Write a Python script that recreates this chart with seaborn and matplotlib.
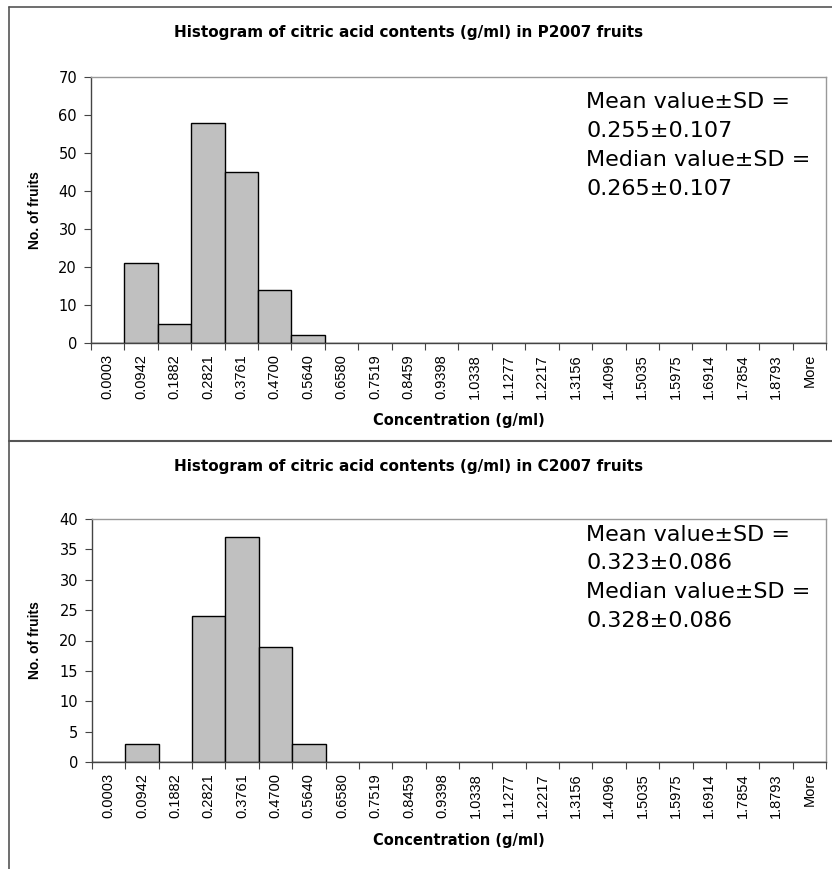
import matplotlib
matplotlib.use("Agg")
import matplotlib.pyplot as plt
from matplotlib.lines import Line2D
import seaborn as sns
import pandas as pd

bins = ["0.0003", "0.0942", "0.1882", "0.2821", "0.3761", "0.4700", "0.5640",
        "0.6580", "0.7519", "0.8459", "0.9398", "1.0338", "1.1277", "1.2217",
        "1.3156", "1.4096", "1.5035", "1.5975", "1.6914", "1.7854", "1.8793", "More"]
counts_p2007 = [0, 21, 5, 58, 45, 14, 2, 0, 0, 0, 0, 0, 0, 0, 0, 0, 0, 0, 0, 0, 0, 0]
counts_c2007 = [0, 3, 0, 24, 37, 19, 3, 0, 0, 0, 0, 0, 0, 0, 0, 0, 0, 0, 0, 0, 0, 0]
titles = ["Histogram of citric acid contents (g/ml) in P2007 fruits",
          "Histogram of citric acid contents (g/ml) in C2007 fruits"]
stats_text = [["Mean value\u00b1SD =", "0.255\u00b10.107", "Median value\u00b1SD =", "0.265\u00b10.107"],
              ["Mean value\u00b1SD =", "0.323\u00b10.086", "Median value\u00b1SD =", "0.328\u00b10.086"]]
y_max = [70, 40]
y_step = [10, 5]

sns.set_theme(style="white")
plt.rcParams['font.family'] = ['Liberation Sans', 'DejaVu Sans']
plt.rcParams['text.color'] = 'black'
plt.rcParams['axes.labelcolor'] = 'black'
plt.rcParams['xtick.color'] = 'black'
plt.rcParams['ytick.color'] = 'black'
WIDE = ['DejaVu Sans', 'Liberation Sans']

W, H = 832, 869
fig = plt.figure(figsize=(W / 100, H / 100), dpi=100)

def fx(px):
    return px / W

def fy(py):
    return 1 - py / H

# panel geometry in pixels: (left, right, top, bottom)
panels = [(91, 826, 77, 343), (92, 826, 519, 762)]
title_y = [32, 467]
xlabel_y = [420, 840]
ylabel_x = 35
text_y = [[102, 131, 160, 189], [535, 563, 592, 621]]
series = [counts_p2007, counts_c2007]

for i in range(2):
    l, r, t, b = panels[i]
    ax = fig.add_axes([fx(l), fy(b), fx(r) - fx(l), fy(t) - fy(b)])
    df = pd.DataFrame({"bin": bins, "count": series[i]})
    sns.barplot(data=df, x="bin", y="count", ax=ax, color="#c0c0c0",
                saturation=1, width=1.0, edgecolor="black", linewidth=1.0)
    ax.set_xlim(-0.5, len(bins) - 0.5)
    ax.set_ylim(0, y_max[i])
    ax.set_yticks(range(0, y_max[i] + 1, y_step[i]))
    ax.tick_params(axis="y", direction="out", length=5, width=0.8, colors="#444444",
                   labelcolor="black", labelsize=10.5, pad=5, left=True)
    for lab in ax.get_yticklabels():
        lab.set_fontfamily(WIDE)
    ax.set_xticks(range(len(bins)))
    ax.set_xticklabels(bins, rotation=90, fontsize=10.5, color="black")
    ax.tick_params(axis="x", which="major", length=0, pad=8, labelcolor="black")
    ax.set_xticks([k - 0.5 for k in range(len(bins) + 1)], minor=True)
    ax.tick_params(axis="x", which="minor", direction="out", length=5, width=0.8,
                   colors="#444444", bottom=True)
    for side in ["left", "bottom"]:
        ax.spines[side].set_color("#444444")
        ax.spines[side].set_linewidth(1.0)
    for side in ["top", "right"]:
        ax.spines[side].set_color("#999999")
        ax.spines[side].set_linewidth(1.0)
    ax.set_xlabel("")
    ax.set_ylabel("")
    ax.grid(False)
    fig.text(fx(409), fy(title_y[i]), titles[i], ha="center", va="center",
             fontsize=11, fontweight="bold", family=WIDE, color="black")
    fig.text((fx(l) + fx(r)) / 2, fy(xlabel_y[i]), "Concentration (g/ml)", ha="center",
             va="center", fontsize=10.5, fontweight="bold", family=WIDE, color="black")
    fig.text(fx(ylabel_x), (fy(t) + fy(b)) / 2, "No. of fruits", ha="center", va="center",
             rotation=90, fontsize=10, fontweight="bold", color="black")
    for line, yy in zip(stats_text[i], text_y[i]):
        fig.text(fx(586), fy(yy), line, ha="left", va="center", fontsize=16,
                 family=WIDE, color="black")

frame_color = "#555555"
fig.add_artist(Line2D([fx(9), 1.0], [fy(7), fy(7)], color=frame_color, lw=1.2))
fig.add_artist(Line2D([fx(9), fx(9)], [fy(7), fy(869)], color=frame_color, lw=1.2))
fig.add_artist(Line2D([fx(9), 1.0], [fy(441), fy(441)], color=frame_color, lw=1.5))

fig.savefig("out.png", dpi=100, facecolor="white")
